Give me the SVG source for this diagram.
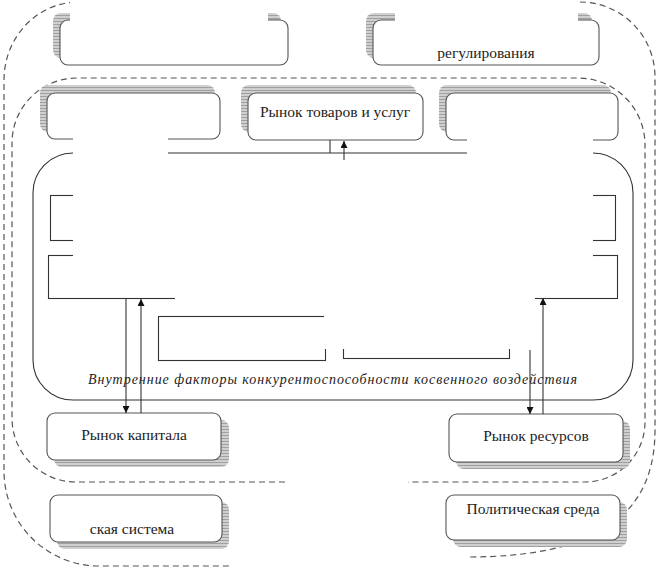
<svg xmlns="http://www.w3.org/2000/svg" width="663" height="571" viewBox="0 0 663 571">
<style>
.dash{fill:none;stroke:#555;stroke-width:1.2;stroke-dasharray:6 4}
.box{fill:#fff;stroke:#555;stroke-width:1.1}
.shd{fill:url(#hatch);stroke:none}
.ln{fill:none;stroke:#333;stroke-width:1.1}
.t{font-family:"Liberation Serif","Times New Roman",serif;font-size:15.5px;fill:#222;text-anchor:middle}
.it{font-family:"Liberation Serif","Times New Roman",serif;font-size:14px;font-style:italic;fill:#222}
.mask{fill:#fff;stroke:none}
</style>
<defs>
<pattern id="hatch" width="3" height="3" patternUnits="userSpaceOnUse">
<rect width="3" height="3" fill="#cfcfcf"/>
<rect width="3" height="1" fill="#a0a0a0"/>
</pattern>
<marker id="ah" viewBox="0 0 10 10" refX="10" refY="5" markerWidth="7" markerHeight="7" orient="auto" markerUnits="userSpaceOnUse">
<path d="M0,0 L10,5 L0,10 z" fill="#111"/>
</marker>
</defs>

<g id="outer-boundary">
<path class="dash" d="M75,2 A75,78 0 0 0 4,80 V471 A95,95 0 0 0 99,566 H230"/>
<path class="dash" d="M580,2 A75,75 0 0 1 655,77 V430 C655,520 590,557 467,557"/>
</g>
<g id="inner-boundary">
<path class="dash" d="M285,482 H76 A64,64 0 0 1 12,418 V143 A65,65 0 0 1 77,78 H578 A67,67 0 0 1 645,145 V422 A60,60 0 0 1 585,482 H408"/>
</g>

<g id="node-inst-gov">
<rect class="shd" x="53" y="13" width="228" height="45" rx="8"/>
<rect class="box" x="60" y="20" width="228" height="45" rx="8"/>
</g>
<g id="node-inst-reg">
<rect class="shd" x="366" y="13" width="226" height="45" rx="8"/>
<rect class="box" x="373" y="20" width="226" height="45" rx="8"/>
<text class="t" x="486" y="58">регулирования</text>
</g>

<g id="node-labour">
<rect class="shd" x="40" y="85" width="175" height="47" rx="8"/>
<rect class="box" x="47" y="93" width="173" height="46" rx="8"/>
</g>
<g id="node-goods">
<rect class="shd" x="241" y="85" width="175" height="47" rx="8"/>
<rect class="box" x="248" y="93" width="175" height="47" rx="8"/>
<text class="t" x="335" y="117">Рынок товаров и услуг</text>
</g>
<g id="node-third">
<rect class="shd" x="439" y="85" width="172" height="47" rx="8"/>
<rect class="box" x="446" y="93" width="172" height="47" rx="8"/>
</g>

<g id="node-internal-factors">
<path class="ln" d="M73,153 A40,40 0 0 0 33,193 V360 A40,40 0 0 0 73,400 H593 A40,40 0 0 0 633,360 V193 A40,40 0 0 0 593,153 H168"/>
<text class="it" x="88" y="384" textLength="489" lengthAdjust="spacing">Внутренние факторы конкурентоспособности  косвенного воздействия</text>
</g>
<g id="node-inner-a">
<rect class="ln" x="50.5" y="195.5" width="565" height="45"/>
</g>
<g id="node-inner-b">
<rect class="ln" x="48.5" y="255.5" width="569" height="43"/>
</g>
<g id="node-inner-c">
<rect class="ln" x="158.5" y="316.5" width="167" height="44"/>
</g>
<g id="node-inner-d">
<rect class="ln" x="343.5" y="316.5" width="166" height="42"/>
</g>

<g id="node-capital">
<rect class="shd" x="54" y="420" width="175" height="47" rx="8"/>
<rect class="box" x="47" y="413" width="174" height="47" rx="8"/>
<text class="t" x="134" y="440">Рынок капитала</text>
</g>
<g id="node-resources">
<rect class="shd" x="456" y="421" width="174" height="48" rx="8"/>
<rect class="box" x="449" y="414" width="174" height="48" rx="8"/>
<text class="t" x="536" y="441">Рынок ресурсов</text>
</g>
<g id="node-world">
<rect class="shd" x="57" y="502" width="172" height="47" rx="8"/>
<rect class="box" x="50" y="495" width="172" height="47" rx="8"/>
<text class="t" x="132" y="534">ская система</text>
</g>
<g id="node-politics">
<rect class="shd" x="453" y="502" width="174" height="45" rx="8"/>
<rect class="box" x="446" y="495" width="174" height="45" rx="8"/>
<text class="t" x="533" y="514">Политическая среда</text>
</g>

<g id="erased">
<rect class="mask" x="70" y="0" width="198" height="45"/>
<rect class="mask" x="395" y="0" width="183" height="22"/>
<rect class="mask" x="73" y="118" width="95" height="165"/>
<rect class="mask" x="467" y="118" width="126" height="40"/>
<rect class="mask" x="168" y="161" width="425" height="122"/>
<rect class="mask" x="175" y="283" width="360" height="32"/>
<rect class="mask" x="324" y="283" width="211" height="66"/>
</g>

<g id="connectors">
<line class="ln" x1="330" y1="140" x2="330" y2="153"/>
<line class="ln" x1="344" y1="160" x2="344" y2="141" marker-end="url(#ah)"/>
<line class="ln" x1="126" y1="299" x2="126" y2="413" marker-end="url(#ah)"/>
<line class="ln" x1="141" y1="413" x2="141" y2="299" marker-end="url(#ah)"/>
<line class="ln" x1="530" y1="350" x2="530" y2="414" marker-end="url(#ah)"/>
<line class="ln" x1="543" y1="414" x2="543" y2="298" marker-end="url(#ah)"/>
</g>
</svg>
